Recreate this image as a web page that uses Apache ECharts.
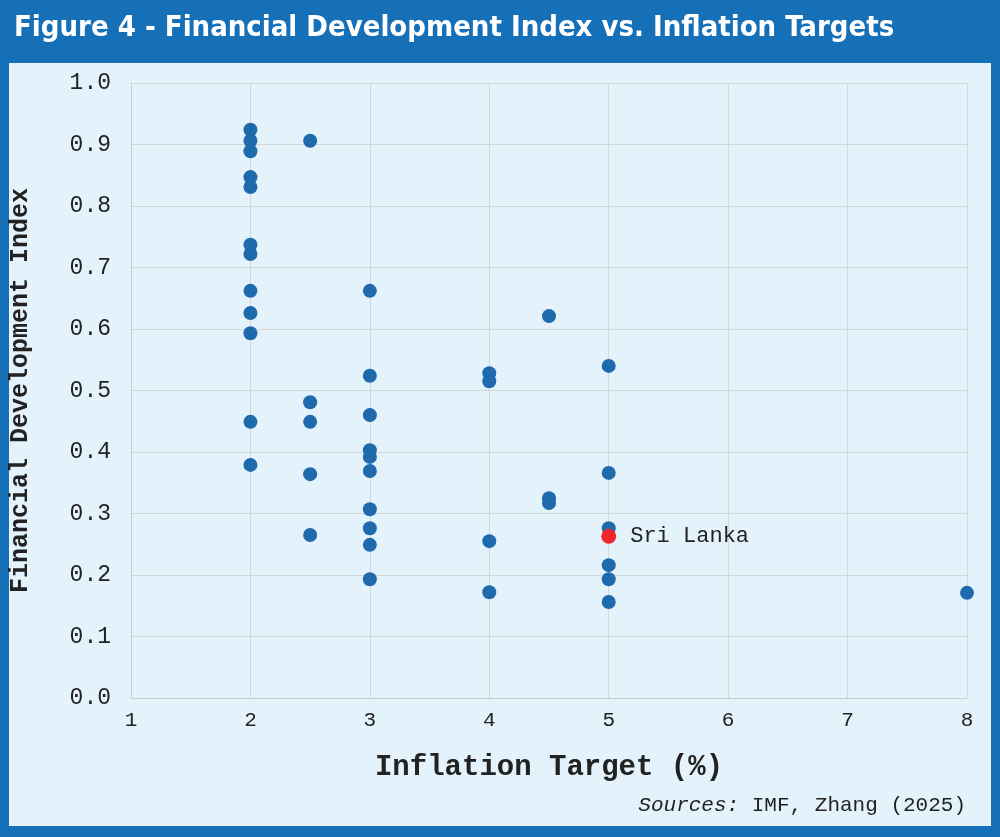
<!DOCTYPE html>
<html>
<head>
<meta charset="utf-8">
<script src="https://cdn.jsdelivr.net/npm/echarts@6/dist/echarts.min.js"></script>
<style>
  html, body { margin: 0; padding: 0; background: #1670b8; }
  #main { width: 1000px; height: 837px; }
</style>
</head>
<body>
<div id="main"></div>
<script>
// inflation target (%) and financial development index per country
var targets = [2, 2, 2, 2, 2, 2, 2, 2, 2, 2, 2, 2,
  2.5, 2.5, 2.5, 2.5, 2.5,
  3, 3, 3, 3, 3, 3, 3, 3, 3, 3,
  4, 4, 4, 4,
  4.5, 4.5, 4.5,
  5, 5, 5, 5, 5, 5,
  8];
var fdIndex = [0.924, 0.906, 0.889, 0.847, 0.831, 0.737, 0.722, 0.662, 0.626, 0.593, 0.449, 0.379,
  0.906, 0.481, 0.449, 0.364, 0.265,
  0.662, 0.524, 0.460, 0.403, 0.392, 0.369, 0.307, 0.276, 0.249, 0.193,
  0.528, 0.515, 0.255, 0.172,
  0.621, 0.325, 0.317,
  0.540, 0.366, 0.276, 0.216, 0.193, 0.156,
  0.171];
var sriLanka = [5, 0.263];

var points = targets.map(function (t, i) { return [t, fdIndex[i]]; });

var chart = echarts.init(document.getElementById('main'));
var mono = '"Liberation Mono", "DejaVu Sans Mono", monospace';
chart.setOption({
  animation: false,
  graphic: [
    { type: 'rect', shape: { x: 9, y: 63, width: 982, height: 763 }, style: { fill: '#e4f3fb' }, z: -10 },
    { type: 'text', left: 14, top: 14, style: {
        text: 'Figure 4 - Financial Development Index vs. Inflation Targets',
        fill: '#ffffff', font: 'bold 29px "DejaVu Sans Condensed", "Roboto", sans-serif' } },
    { type: 'text', right: 34, top: 795, style: {
        text: '{i|Sources:} IMF, Zhang (2025)',
        fill: '#222', font: '21px ' + mono,
        rich: { i: { fontStyle: 'italic', fontFamily: mono, fontSize: 21, fill: '#222' } } } }
  ],
  grid: { left: 127, right: 33, top: 83, bottom: 139 },
  xAxis: {
    type: 'value', min: 1, max: 8, interval: 1,
    name: 'Inflation Target (%)', nameLocation: 'middle', nameGap: 55,
    nameTextStyle: { fontFamily: mono, fontWeight: 'bold', fontSize: 29, color: '#222' },
    axisLine: { show: true, lineStyle: { color: '#cccccc' } },
    axisTick: { show: false },
    axisLabel: { fontFamily: mono, fontSize: 21, color: '#222', margin: 12 },
    splitLine: { show: true, lineStyle: { color: '#d6d6d6' } }
  },
  yAxis: {
    type: 'value', min: 0, max: 1, interval: 0.1,
    name: 'Financial Development Index', nameLocation: 'middle', nameGap: 98,
    nameTextStyle: { fontFamily: mono, fontWeight: 'bold', fontSize: 25, color: '#222' },
    axisLine: { show: true, lineStyle: { color: '#cccccc' } },
    axisTick: { show: false },
    axisLabel: { fontFamily: mono, fontSize: 23, color: '#222', margin: 20,
      formatter: function (v) { return v.toFixed(1); } },
    splitLine: { show: true, lineStyle: { color: '#d6d6d6' } }
  },
  series: [
    { type: 'scatter', data: points, symbolSize: 14, itemStyle: { color: '#1e6aad', opacity: 1 } },
    { type: 'scatter', data: [sriLanka], symbolSize: 15, itemStyle: { color: '#f0262b', opacity: 1 },
      label: { show: true, position: 'right', distance: 14, formatter: 'Sri Lanka',
        fontFamily: mono, fontSize: 22, color: '#222' } }
  ]
});
</script>
</body>
</html>
